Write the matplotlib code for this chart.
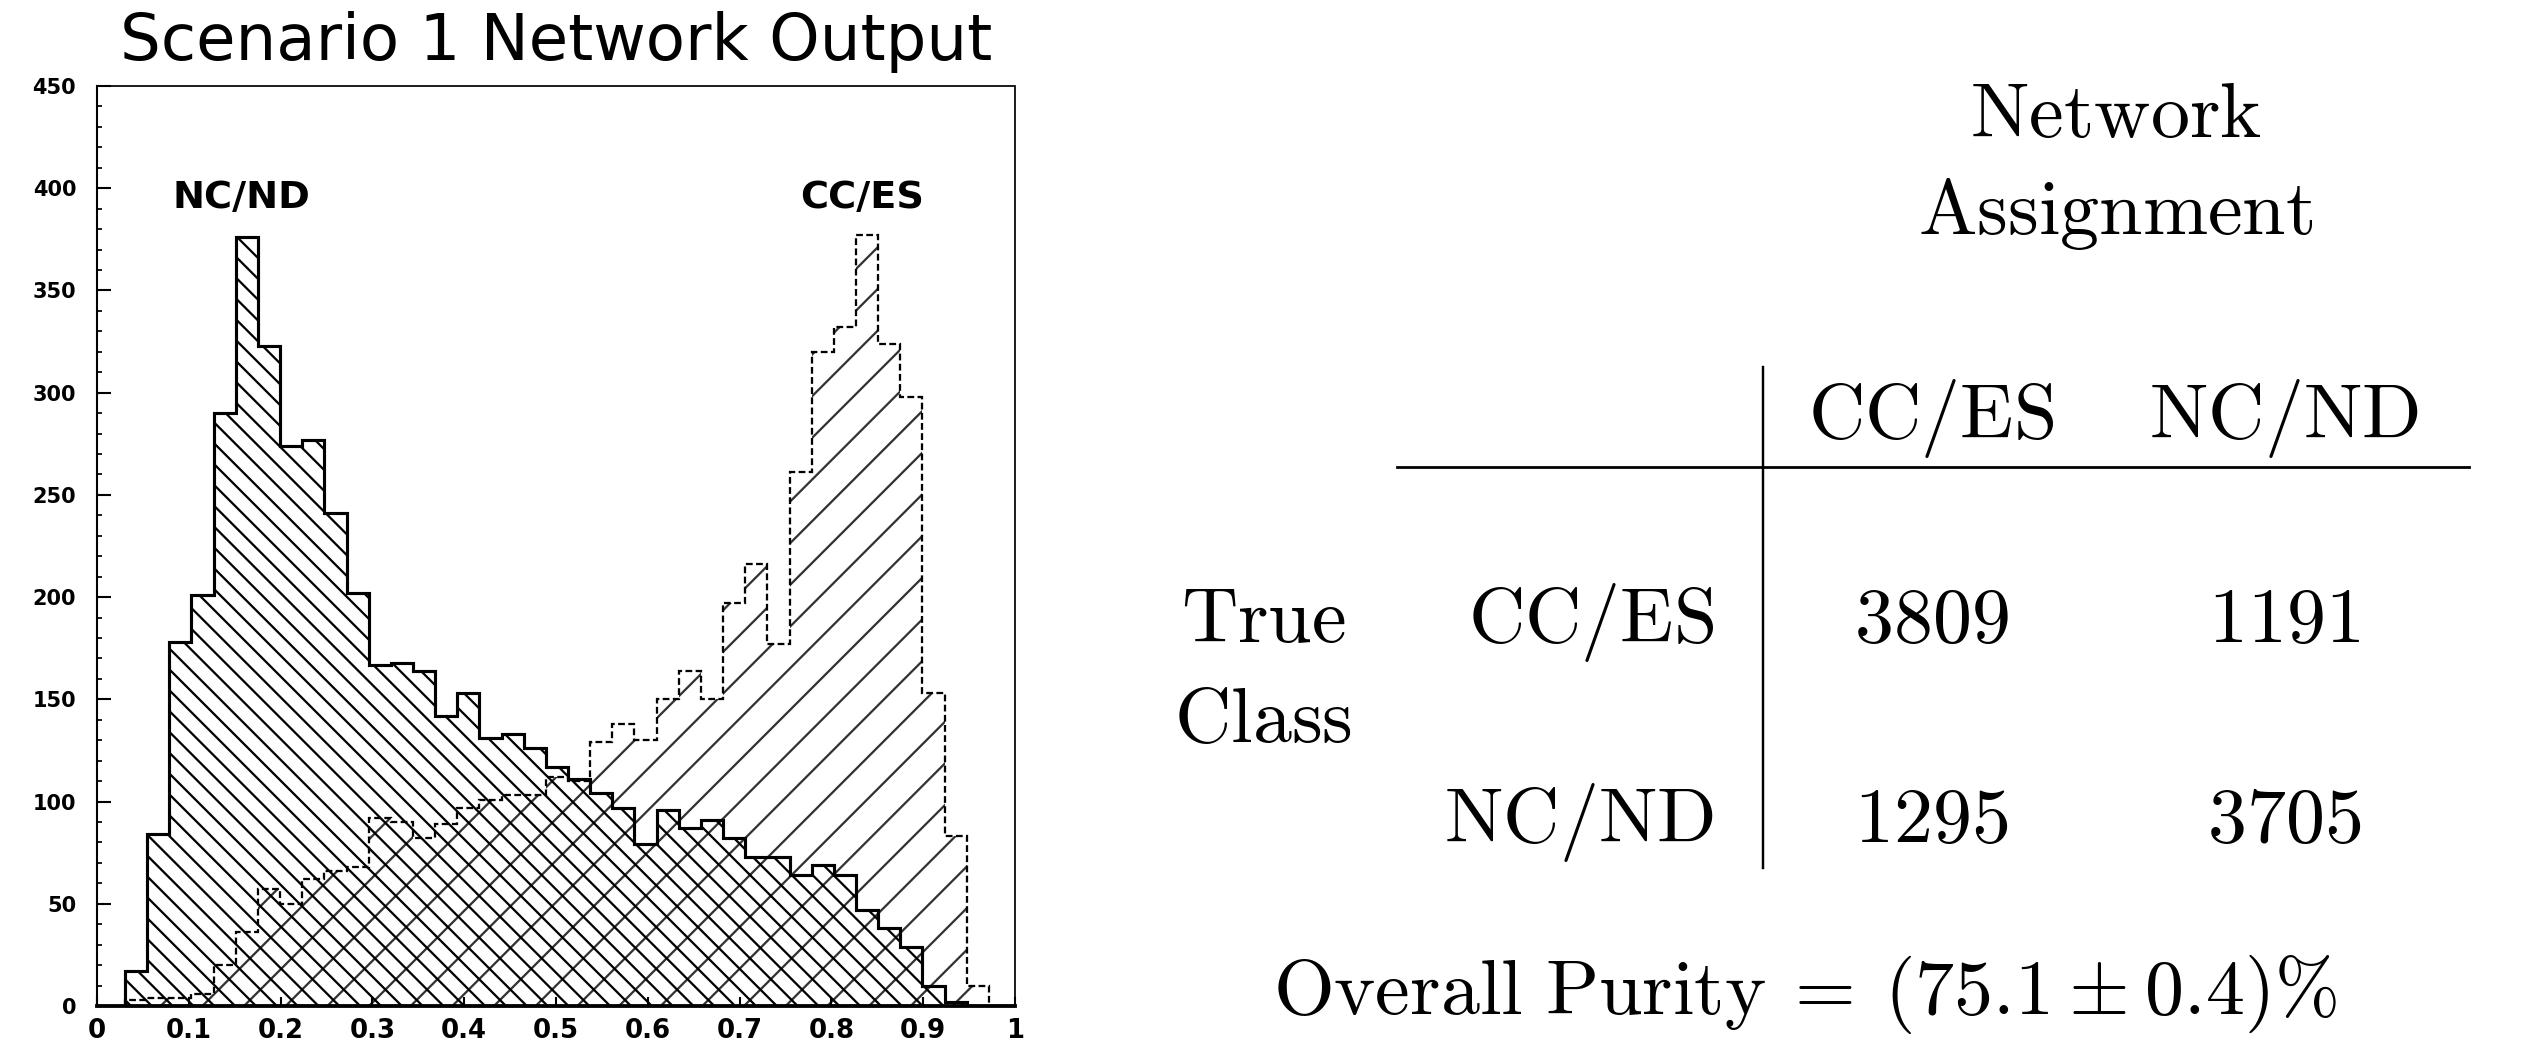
import matplotlib
matplotlib.use("Agg")
import matplotlib.pyplot as plt
from matplotlib.lines import Line2D
import numpy as np

# histogram binning (first edge, bin width, network output units)
bin_lo = 0.0305
bin_width = 0.02413

# counts per bin, true NC/ND events (left peak) and true CC/ES events (right peak)
nc_nd_counts = [17, 84, 178, 201, 290, 376, 323, 274, 277, 241,
                202, 167, 168, 164, 142, 153, 131, 133, 126, 117,
                111, 104, 97, 79, 96, 87, 91, 82, 73, 73,
                64, 69, 64, 47, 38, 29, 10, 2, 0, 0]
cc_es_counts = [3, 4, 4, 6, 20, 36, 57, 50, 62, 66,
                68, 92, 90, 82, 89, 97, 101, 103, 103, 112,
                110, 129, 138, 130, 150, 164, 150, 197, 216, 177,
                261, 320, 332, 377, 324, 298, 153, 83, 10, 0]

x_ticks = [0, 0.1, 0.2, 0.3, 0.4, 0.5, 0.6, 0.7, 0.8, 0.9, 1.0]
x_tick_labels = ["0", "0.1", "0.2", "0.3", "0.4", "0.5", "0.6", "0.7", "0.8", "0.9", "1"]
y_ticks = [0, 50, 100, 150, 200, 250, 300, 350, 400, 450]

title = "Scenario 1 Network Output"
peak_labels = ["NC/ND", "CC/ES"]
peak_label_x = [0.157, 0.833]
peak_label_y = 395

# confusion table
col_headers = ["CC/ES", "NC/ND"]
row_headers = ["CC/ES", "NC/ND"]
table_counts = [[3809, 1191],
                [1295, 3705]]
purity = 75.1
purity_err = 0.4

plt.rcParams["mathtext.fontset"] = "cm"
plt.rcParams["hatch.linewidth"] = 1.3

W, H, DPI = 2534, 1050, 125
fig = plt.figure(figsize=(W / DPI, H / DPI), dpi=DPI, facecolor="w")


def fx(px):
    return px / W


def fy(py):
    return 1 - py / H


# ---- histogram panel
axe = fig.add_axes([fx(97), fy(1006), 918 / W, 920 / H])
edges = bin_lo + bin_width * np.arange(len(nc_nd_counts) + 1)

axe.stairs(cc_es_counts, edges, fill=True, facecolor="none", edgecolor="0.2",
           hatch="/", linewidth=0)
axe.stairs(nc_nd_counts, edges, fill=True, facecolor="none", edgecolor="black",
           hatch="\\\\", linewidth=0)
axe.stairs(cc_es_counts, edges, color="black", linewidth=1.3, linestyle=(0, (3, 1.5)))
axe.stairs(nc_nd_counts, edges, color="black", linewidth=1.8)

axe.set_xlim(0, 1)
axe.set_ylim(0, 450)
axe.set_xticks(x_ticks)
axe.set_xticklabels(x_tick_labels)
axe.set_yticks(y_ticks)
axe.set_yticks(np.arange(0, 451, 10), minor=True)
axe.tick_params(which="both", direction="in", top=False, right=False)
axe.tick_params(axis="y", which="major", length=8, width=1.2, pad=12, labelsize=12)
axe.tick_params(axis="y", which="minor", length=3, width=1.0)
axe.tick_params(axis="x", which="major", length=5, width=1.2, pad=7, labelsize=15)
for lab in axe.get_xticklabels() + axe.get_yticklabels():
    lab.set_fontweight("bold")

axe.spines["bottom"].set_linewidth(2.2)
axe.spines["left"].set_linewidth(1.2)
axe.spines["top"].set_linewidth(1.0)
axe.spines["right"].set_linewidth(1.0)
axe.spines["right"].set_linestyle((0, (4, 1)))

axe.text(0.5, 1 + 26 / 920, title, transform=axe.transAxes, ha="center",
         va="baseline", fontsize=37)
for lab, xl in zip(peak_labels, peak_label_x):
    axe.text(xl, peak_label_y, lab, ha="center", va="center", fontsize=22,
             fontweight="bold")

# ---- confusion table panel
big = 45
fig.text(fx(2116), fy(137), r"$\mathrm{Network}$", ha="center", va="baseline", fontsize=big)
fig.text(fx(2116), fy(234), r"$\mathrm{Assignment}$", ha="center", va="baseline", fontsize=big)

col_x = [1931, 2284]
row_y = [642, 842]
header_y = 438
row_label_right = 1714

for cx, hdr in zip(col_x, col_headers):
    fig.text(fx(cx), fy(header_y), r"$\mathrm{%s}$" % hdr, ha="center",
             va="baseline", fontsize=big)
for ry, hdr, vals in zip(row_y, row_headers, table_counts):
    fig.text(fx(row_label_right), fy(ry), r"$\mathrm{%s}$" % hdr, ha="right",
             va="baseline", fontsize=big)
    for cx, v in zip(col_x, vals):
        fig.text(fx(cx), fy(ry), r"$\mathrm{%d}$" % v, ha="center",
                 va="baseline", fontsize=big)

fig.text(fx(1263), fy(642), r"$\mathrm{True}$", ha="center", va="baseline", fontsize=big)
fig.text(fx(1263), fy(742), r"$\mathrm{Class}$", ha="center", va="baseline", fontsize=big)

fig.add_artist(Line2D([fx(1397), fx(2469)], [fy(467), fy(467)], color="black",
                      linewidth=1.6, transform=fig.transFigure))
fig.add_artist(Line2D([fx(1763), fx(1763)], [fy(367), fy(868)], color="black",
                      linewidth=1.4, transform=fig.transFigure))

purity_text = (r"$\mathrm{Overall\ Purity}\:=\:(%.1f\:\pm\:%.1f)\%%$"
               % (purity, purity_err))
fig.text(fx(1805), fy(1014), purity_text, ha="center", va="baseline", fontsize=big)

fig.savefig("out.png", dpi=DPI, facecolor="w")
